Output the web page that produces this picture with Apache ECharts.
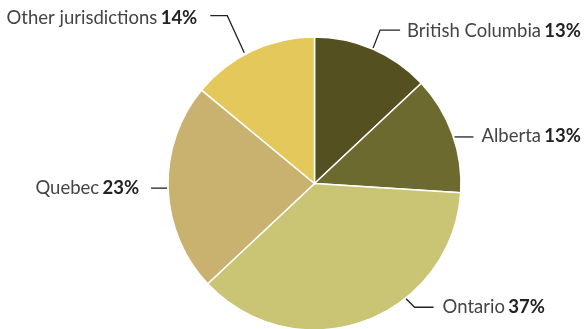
<!DOCTYPE html>
<html>
<head>
<meta charset="utf-8">
<script src="https://cdn.jsdelivr.net/npm/echarts@6/dist/echarts.min.js"></script>
<style>
html,body{margin:0;padding:0;background:#fff;}
#chart{width:587px;height:329px;}
</style>
</head>
<body>
<div id="chart"></div>
<script>
// ---- data ----
const categories = ['British Columbia', 'Alberta', 'Ontario', 'Quebec', 'Other jurisdictions'];
const shares = [13, 13, 37, 23, 14];

// ---- styles ----
const colors = ['#55501f', '#6c6a2e', '#c9c575', '#c9b16f', '#e4c85b'];
const PIE_CENTER = [314.5, 183.5];
const PIE_RADIUS = 146.5;
// leader-line styling per label: anchor fraction within slice, radial offset, elbow, horizontal length, text gap, side
const leader = [
  { frac: 0.5,  rOff: 1,  dx: 7,   dy: -18, len2: 20, gap: 7,  side: 1,  ty: 1 },
  { frac: 0.53, rOff: 1,  dx: 0,   dy: 0,   len2: 19, gap: 8,  side: 1,  ty: -1 },
  { frac: 0.36, rOff: 0,  dx: 9,   dy: 9,   len2: 19, gap: 9,  side: 1,  ty: 0 },
  { frac: 0.5,  rOff: 1,  dx: 0,   dy: 0,   len2: 16, gap: 12, side: -1, ty: 0 },
  { frac: 0.44, rOff: 2,  dx: -17, dy: -37, len2: 17, gap: 13, side: -1, ty: 2 }
];

const chart = echarts.init(document.getElementById('chart'), null, { renderer: 'canvas' });

function sliceAngles(idx) {
  // same convention as the pie: start at top (-90deg), clockwise
  let lay = null;
  try {
    lay = chart.getModel().getSeriesByIndex(0).getData().getItemLayout(idx);
  } catch (e) { lay = null; }
  if (lay && isFinite(lay.startAngle) && isFinite(lay.cx)) return lay;
  const total = shares.reduce((a, b) => a + b, 0);
  let acc = 0;
  for (let i = 0; i < idx; i++) acc += shares[i];
  const start = -Math.PI / 2 + acc / total * Math.PI * 2;
  const end = start + shares[idx] / total * Math.PI * 2;
  return { cx: PIE_CENTER[0], cy: PIE_CENTER[1], r: PIE_RADIUS, startAngle: start, endAngle: end };
}

chart.setOption({
  animation: false,
  backgroundColor: '#ffffff',
  series: [{
    type: 'pie',
    center: PIE_CENTER,
    radius: PIE_RADIUS,
    startAngle: 90,
    clockwise: true,
    avoidLabelOverlap: false,
    data: categories.map((c, i) => ({ name: c, value: shares[i], itemStyle: { color: colors[i] } })),
    itemStyle: { borderColor: '#ffffff', borderWidth: 1.5 },
    label: {
      show: true,
      position: 'outside',
      width: 260,
      overflow: 'none',
      formatter: p => '{n|' + p.name + '} {b|' + p.value + '%}',
      rich: {
        n: { fontFamily: 'Lato', fontSize: 18.5, color: '#444444', fontWeight: 'normal' },
        b: { fontFamily: 'Lato', fontSize: 18.5, color: '#222222', fontWeight: 'bold' }
      }
    },
    labelLine: { show: true, length: 10, length2: 10, lineStyle: { color: '#222222', width: 1.3 } },
    emphasis: { disabled: true },
    labelLayout: function (p) {
      const lay = sliceAngles(p.dataIndex);
      const s = leader[p.dataIndex];
      const a = lay.startAngle + (lay.endAngle - lay.startAngle) * s.frac;
      const r = lay.r + s.rOff;
      const p0 = [lay.cx + r * Math.cos(a), lay.cy + r * Math.sin(a)];
      const p1 = [p0[0] + s.dx, p0[1] + s.dy];
      const p2 = [p1[0] + s.side * s.len2, p1[1]];
      return {
        x: p2[0] + s.side * s.gap,
        y: p2[1] + s.ty,
        align: s.side > 0 ? 'left' : 'right',
        verticalAlign: 'middle',
        labelLinePoints: [p0, p1, p2]
      };
    }
  }]
});
</script>
</body>
</html>
